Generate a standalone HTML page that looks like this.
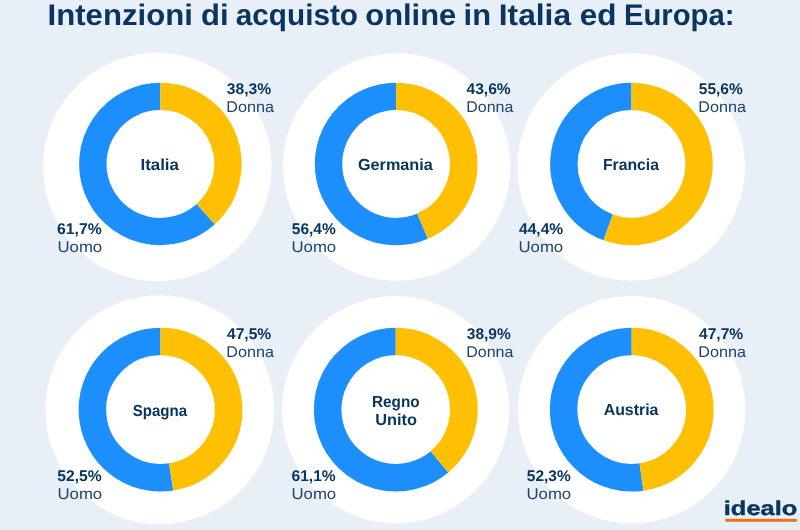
<!DOCTYPE html>
<html><head><meta charset="utf-8"><title>Intenzioni di acquisto online</title>
<style>
html,body{margin:0;padding:0;background:#e8eff7;}
body{width:800px;height:530px;overflow:hidden;font-family:"Liberation Sans",sans-serif;}
svg{display:block;will-change:transform;}
text{font-family:"Liberation Sans",sans-serif;text-rendering:geometricPrecision;}
.b{font-weight:bold;fill:#0a3560;}
.r{font-weight:normal;fill:#1f4468;}
</style></head><body>
<svg width="800" height="530" viewBox="0 0 800 530">
<rect width="800" height="530" fill="#e8eff7"/>
<circle cx="157.3" cy="167" r="114.3" fill="#fff"/>
<circle cx="396.7" cy="167" r="113.8" fill="#fff"/>
<circle cx="631.2" cy="167" r="113.8" fill="#fff"/>
<circle cx="159.8" cy="409.7" r="114.4" fill="#fff"/>
<circle cx="395.6" cy="409.7" r="113.7" fill="#fff"/>
<circle cx="631.6" cy="409.7" r="113.8" fill="#fff"/>
<path d="M205.74 214.14A67.60 67.60 0 1 1 160.40 96.40" fill="none" stroke="#1c8ffd" stroke-width="27.40"/>
<path d="M160.40 96.40A67.60 67.60 0 0 1 205.74 214.14" fill="none" stroke="#ffc003" stroke-width="27.40"/>
<path d="M422.56 226.21A67.60 67.60 0 1 1 396.10 96.40" fill="none" stroke="#1c8ffd" stroke-width="27.40"/>
<path d="M396.10 96.40A67.60 67.60 0 0 1 422.56 226.21" fill="none" stroke="#ffc003" stroke-width="27.40"/>
<path d="M608.20 227.46A67.60 67.60 0 0 1 631.50 96.40" fill="none" stroke="#1c8ffd" stroke-width="27.40"/>
<path d="M631.50 96.40A67.60 67.60 0 1 1 608.20 227.46" fill="none" stroke="#ffc003" stroke-width="27.40"/>
<path d="M171.15 476.86A68.10 68.10 0 1 1 160.50 341.50" fill="none" stroke="#1c8ffd" stroke-width="27.60"/>
<path d="M160.50 341.50A68.10 68.10 0 0 1 171.15 476.86" fill="none" stroke="#ffc003" stroke-width="27.60"/>
<path d="M439.49 461.80A68.10 68.10 0 1 1 395.75 341.50" fill="none" stroke="#1c8ffd" stroke-width="27.60"/>
<path d="M395.75 341.50A68.10 68.10 0 0 1 439.49 461.80" fill="none" stroke="#ffc003" stroke-width="27.60"/>
<path d="M641.51 476.99A68.10 68.10 0 1 1 631.70 341.50" fill="none" stroke="#1c8ffd" stroke-width="27.60"/>
<path d="M631.70 341.50A68.10 68.10 0 0 1 641.51 476.99" fill="none" stroke="#ffc003" stroke-width="27.60"/>
<text class="b" font-size="29.8" transform="translate(47.55 25) scale(1.0449 1)">Intenzioni</text>
<text class="b" font-size="29.8" transform="translate(201.03 25) scale(1.0403 1)">di</text>
<text class="b" font-size="29.8" transform="translate(235.79 25) scale(0.9972 1)">acquisto</text>
<text class="b" font-size="29.8" transform="translate(365.28 25) scale(1.0370 1)">online</text>
<text class="b" font-size="29.8" transform="translate(463.57 25) scale(1.0354 1)">in</text>
<text class="b" font-size="29.8" transform="translate(498.77 25) scale(1.0644 1)">Italia</text>
<text class="b" font-size="29.8" transform="translate(579.77 25) scale(1.0567 1)">ed</text>
<text class="b" font-size="29.8" transform="translate(623.92 25) scale(0.9816 1)">Europa:</text>
<text class="b" font-size="15.5" transform="translate(226.75 93.5) scale(1.0118 1)">38,3%</text>
<text class="r" font-size="15.5" transform="translate(226.24 111.5) scale(1.0435 1)">Donna</text>
<text class="b" font-size="15.5" transform="translate(57.01 234) scale(1.0174 1)">61,7%</text>
<text class="r" font-size="15.5" transform="translate(57.45 252) scale(1.0818 1)">Uomo</text>
<text class="b" font-size="15.5" transform="translate(466.50 93.5) scale(1.0062 1)">43,6%</text>
<text class="r" font-size="15.5" transform="translate(466.25 111.5) scale(1.0323 1)">Donna</text>
<text class="b" font-size="15.5" transform="translate(291.76 234) scale(1.0003 1)">56,4%</text>
<text class="r" font-size="15.5" transform="translate(291.45 252) scale(1.0818 1)">Uomo</text>
<text class="b" font-size="15.5" transform="translate(698.76 93.5) scale(1.0003 1)">55,6%</text>
<text class="r" font-size="15.5" transform="translate(698.24 111.5) scale(1.0435 1)">Donna</text>
<text class="b" font-size="15.5" transform="translate(519.00 234) scale(1.0062 1)">44,4%</text>
<text class="r" font-size="15.5" transform="translate(518.45 252) scale(1.0818 1)">Uomo</text>
<text class="b" font-size="15.5" transform="translate(227.00 339) scale(1.0062 1)">47,5%</text>
<text class="r" font-size="15.5" transform="translate(226.24 357) scale(1.0435 1)">Donna</text>
<text class="b" font-size="15.5" transform="translate(57.25 481) scale(1.0118 1)">52,5%</text>
<text class="r" font-size="15.5" transform="translate(57.45 499) scale(1.0818 1)">Uomo</text>
<text class="b" font-size="15.5" transform="translate(466.76 339) scale(1.0003 1)">38,9%</text>
<text class="r" font-size="15.5" transform="translate(466.25 357) scale(1.0323 1)">Donna</text>
<text class="b" font-size="15.5" transform="translate(291.51 480.5) scale(1.0059 1)">61,1%</text>
<text class="r" font-size="15.5" transform="translate(291.45 499) scale(1.0818 1)">Uomo</text>
<text class="b" font-size="15.5" transform="translate(699.00 339) scale(1.0062 1)">47,7%</text>
<text class="r" font-size="15.5" transform="translate(698.24 357) scale(1.0435 1)">Donna</text>
<text class="b" font-size="15.5" transform="translate(526.76 481) scale(1.0003 1)">52,3%</text>
<text class="r" font-size="15.5" transform="translate(526.45 499) scale(1.0818 1)">Uomo</text>
<text class="b" font-size="16" transform="translate(140.45 169.5) scale(1.0545 1)">Italia</text>
<text class="b" font-size="16" transform="translate(357.99 169.75) scale(1.0134 1)">Germania</text>
<text class="b" font-size="16" transform="translate(602.91 169.75) scale(0.9854 1)">Francia</text>
<text class="b" font-size="16" transform="translate(132.66 416) scale(0.9403 1)">Spagna</text>
<text class="b" font-size="16" transform="translate(371.94 406.5) scale(0.9575 1)">Regno</text>
<text class="b" font-size="16" transform="translate(375.23 424.75) scale(1.0202 1)">Unito</text>
<text class="b" font-size="16" transform="translate(603.65 415) scale(0.9932 1)">Austria</text>
<text class="b" font-size="20" stroke="#0a3560" stroke-width="0.4" stroke-linejoin="round" transform="translate(723.81 514.6) scale(1.2704 1)">idealo</text>
<rect x="725.2" y="518.8" width="71.6" height="3" fill="#f0731c"/>
</svg>
</body></html>
